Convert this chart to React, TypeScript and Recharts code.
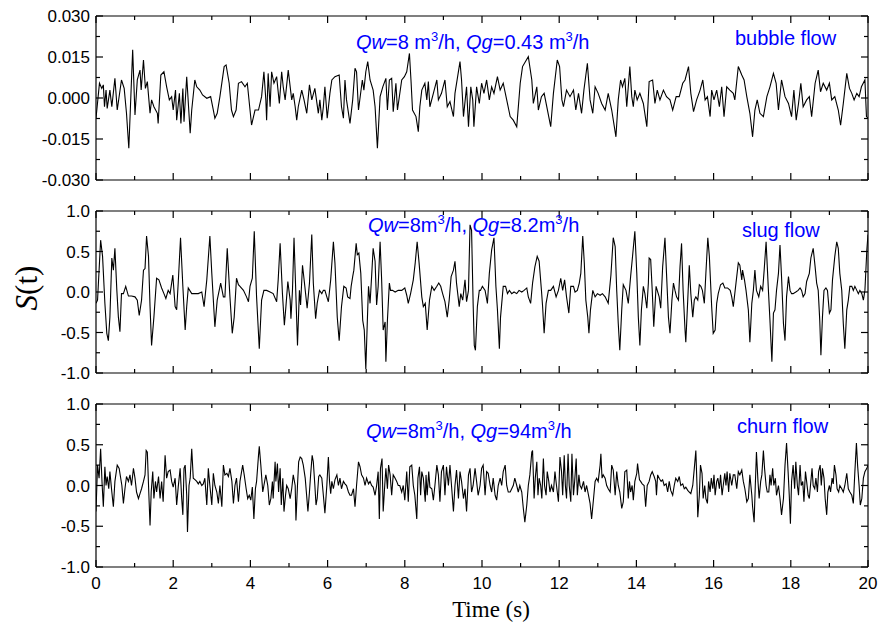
import { LineChart, Line, XAxis, YAxis, Label } from "recharts";

// sampled S(t) traces, [time (s), S]
const bubbleFlow: [number, number][] = [
  [0.0, -0.0074], [0.09, 0.0054], [0.15, 0.0035], [0.19, 0.0048], [0.22, -0.0032], [0.26, 0.0029], [0.29, -0.0038], [0.36, 0.0029], [0.41, -0.0032], [0.49, 0.0072], [0.55, -0.0044], [0.66, 0.0066], [0.73, 0.0035], [0.79, -0.0056], [0.85, -0.0184], [0.95, 0.0176], [1.01, -0.0062], [1.07, 0.0066], [1.14, 0.0102], [1.17, 0.0029], [1.23, 0.0139], [1.28, 0.0035], [1.33, 0.006], [1.4, -0.0056], [1.44, -0.0007], [1.5, -0.0032], [1.59, -0.0056], [1.61, -0.0093], [1.68, 0.0084], [1.76, 0.0096], [1.83, 0.0041], [1.9, -0.0007], [1.96, 0.0005], [2.0, -0.0044], [2.06, 0.0029], [2.09, -0.0081], [2.16, 0.0017], [2.2, -0.0093], [2.25, 0.0035], [2.28, -0.0087], [2.35, 0.0078], [2.44, -0.0129], [2.48, -0.0044], [2.56, 0.0066], [2.61, 0.0041], [2.69, 0.0029], [2.76, 0.0011], [2.87, -0.0001], [2.97, 0.0005], [3.04, -0.0044], [3.08, -0.0074], [3.14, -0.0056], [3.21, 0.0005], [3.32, 0.0115], [3.37, 0.0121], [3.45, 0.0054], [3.51, -0.0044], [3.56, -0.0068], [3.63, -0.0044], [3.69, 0.0054], [3.77, 0.006], [3.86, 0.0041], [3.92, 0.0054], [3.99, -0.0044], [4.03, -0.0099], [4.12, -0.0044], [4.21, -0.0044], [4.29, 0.0005], [4.35, 0.0096], [4.4, -0.0007], [4.42, -0.0081], [4.46, 0.009], [4.51, -0.0032], [4.55, 0.0096], [4.61, 0.0054], [4.68, 0.0078], [4.75, -0.002], [4.81, 0.0096], [4.85, 0.0041], [4.9, -0.0007], [4.98, 0.0102], [5.07, -0.0007], [5.11, 0.0017], [5.16, -0.0032], [5.2, -0.0081], [5.24, -0.0032], [5.33, 0.0029], [5.39, -0.0007], [5.46, -0.0056], [5.53, 0.0048], [5.59, -0.0007], [5.67, 0.0035], [5.76, -0.0056], [5.8, -0.0007], [5.85, -0.0081], [5.89, -0.0032], [5.93, 0.0041], [5.99, -0.0074], [6.06, 0.0017], [6.11, 0.0066], [6.19, 0.0078], [6.3, 0.0084], [6.36, -0.0032], [6.41, -0.0074], [6.45, 0.0066], [6.49, -0.0007], [6.58, -0.0093], [6.65, -0.0007], [6.71, 0.0109], [6.75, 0.0096], [6.8, -0.0044],
  [6.9, 0.0066], [6.94, 0.0029], [6.99, 0.0096], [7.04, 0.0133], [7.1, 0.0066], [7.18, 0.0029], [7.23, -0.0032], [7.29, -0.0184], [7.36, 0.0005], [7.43, 0.0041], [7.51, 0.0072], [7.55, -0.0044], [7.6, 0.0066], [7.66, 0.0072], [7.7, -0.005], [7.77, 0.0054], [7.81, -0.0044], [7.92, 0.0066], [7.99, 0.0078], [8.05, 0.0096], [8.12, 0.0163], [8.16, 0.0066], [8.2, -0.0044], [8.29, -0.0068], [8.35, -0.0123], [8.39, -0.0032], [8.44, 0.0029], [8.52, 0.0054], [8.57, -0.0007], [8.61, 0.006], [8.65, -0.0032], [8.74, 0.0017], [8.83, 0.0066], [8.87, -0.0007], [8.95, 0.0017], [9.04, 0.0066], [9.1, -0.0032], [9.17, -0.0013], [9.26, -0.0068], [9.3, 0.0017], [9.43, 0.0133], [9.47, 0.0066], [9.52, -0.0068], [9.6, 0.0041], [9.65, -0.0105], [9.71, 0.0041], [9.76, -0.0007], [9.79, -0.0105], [9.86, 0.0041], [9.93, -0.002], [9.99, 0.0054], [10.05, 0.0017], [10.12, 0.0066], [10.19, -0.0007], [10.25, 0.0041], [10.31, 0.0017], [10.4, 0.0078], [10.47, 0.0029], [10.55, 0.0054], [10.64, -0.0007], [10.73, -0.0068], [10.81, -0.0081], [10.9, -0.0105], [10.99, 0.0054], [11.05, 0.0115], [11.2, 0.0151], [11.29, 0.0066], [11.33, -0.002], [11.42, 0.0041], [11.46, -0.0044], [11.54, 0.0005], [11.61, 0.0017], [11.78, -0.0105], [11.85, 0.0017], [11.95, 0.0139], [12.01, 0.0115], [12.07, -0.0007], [12.11, -0.0032], [12.19, 0.0029], [12.28, 0.0005], [12.37, 0.0029], [12.43, -0.0044], [12.5, 0.0017], [12.58, -0.0056], [12.64, 0.0029], [12.73, 0.0127], [12.8, -0.0007], [12.87, -0.0056], [12.93, 0.0041], [13.01, 0.0017], [13.1, -0.002], [13.19, -0.0044], [13.27, 0.0017], [13.36, -0.0044], [13.47, -0.0142], [13.53, -0.0007],
  [13.59, 0.0066], [13.64, 0.0041], [13.7, 0.0072], [13.75, -0.0032], [13.83, 0.0115], [13.88, 0.0005], [13.92, -0.0032], [13.96, 0.0029], [14.02, -0.0007], [14.09, 0.0017], [14.18, -0.002], [14.27, -0.0105], [14.33, 0.006], [14.42, 0.0066], [14.48, -0.002], [14.54, 0.0029], [14.61, -0.0007], [14.7, 0.0029], [14.78, 0.0005], [14.87, -0.0007], [14.94, -0.0044], [15.03, 0.0005], [15.11, 0.0005], [15.2, 0.0054], [15.26, 0.0066], [15.35, 0.0115], [15.41, 0.0017], [15.48, -0.005], [15.56, -0.0007], [15.65, 0.0029], [15.72, 0.0066], [15.78, -0.0007], [15.84, 0.0005], [15.91, -0.0068], [15.95, 0.0029], [16.01, -0.0007], [16.08, 0.0029], [16.15, -0.0032], [16.21, 0.0041], [16.27, -0.0068], [16.34, 0.0041], [16.42, 0.0029], [16.51, 0.0017], [16.55, -0.0007], [16.64, 0.0115], [16.73, 0.0084], [16.79, 0.0066], [16.86, 0.0005], [16.94, -0.0056], [17.01, -0.0142], [17.07, -0.0044], [17.13, -0.0007], [17.2, -0.0056], [17.29, -0.0068], [17.38, 0.0005], [17.46, 0.0041], [17.55, 0.009], [17.62, 0.0054], [17.68, -0.0044], [17.76, 0.0066], [17.85, 0.0005], [17.94, -0.002], [18.02, -0.0068], [18.08, 0.0029], [18.14, -0.0081], [18.2, -0.002], [18.26, 0.0054], [18.32, -0.0032], [18.41, -0.0007], [18.48, 0.0005], [18.54, -0.0068], [18.63, 0.0054], [18.71, 0.0102], [18.77, 0.0023], [18.84, 0.0054], [18.93, 0.0029], [19.0, 0.0054], [19.06, -0.0007], [19.14, 0.0005], [19.23, -0.0044], [19.29, -0.0099], [19.36, -0.002], [19.45, 0.009], [19.52, 0.0035], [19.58, 0.0017], [19.64, -0.0007], [19.71, 0.0017], [19.77, 0.0005], [19.83, 0.0041], [19.92, 0.0066], [19.96, -0.0068], [20.0, -0.0074],
];

const slugFlow: [number, number][] = [
  [0.0, -0.14], [0.04, -0.1], [0.12, 0.64], [0.17, 0.44], [0.23, -0.14], [0.28, -0.51], [0.32, -0.6], [0.36, -0.31], [0.41, 0.42], [0.45, 0.27], [0.49, 0.54], [0.54, 0.02], [0.58, -0.31], [0.62, -0.49], [0.66, -0.02], [0.71, -0.02], [0.77, 0.07], [0.84, -0.05], [0.92, -0.05], [1.01, -0.06], [1.07, -0.1], [1.12, -0.29], [1.18, -0.1], [1.23, 0.27], [1.27, 0.29], [1.31, 0.69], [1.36, 0.44], [1.4, -0.18], [1.44, -0.66], [1.5, -0.31], [1.57, 0.17], [1.63, 0.15], [1.7, 0.05], [1.76, -0.02], [1.81, -0.08], [1.87, 0.02], [1.92, -0.02], [1.99, 0.21], [2.05, -0.18], [2.09, -0.22], [2.13, 0.11], [2.19, 0.67], [2.25, 0.07], [2.31, -0.47], [2.35, -0.18], [2.39, 0.05], [2.48, -0.02], [2.56, -0.02], [2.65, -0.02], [2.74, 0.0], [2.8, -0.18], [2.87, 0.15], [2.95, 0.69], [3.0, 0.23], [3.08, -0.43], [3.14, -0.1], [3.23, 0.11], [3.3, -0.06], [3.34, -0.06], [3.4, 0.54], [3.47, -0.06], [3.53, -0.51], [3.58, -0.31], [3.64, 0.17], [3.69, 0.09], [3.73, 0.07], [3.82, 0.02], [3.9, -0.06], [3.95, -0.12], [3.99, 0.07], [4.05, 0.17], [4.1, 0.75], [4.16, -0.06], [4.23, -0.7], [4.29, -0.1], [4.35, 0.02], [4.42, 0.02], [4.51, 0.0], [4.59, -0.02], [4.68, -0.12], [4.72, 0.15], [4.77, 0.6], [4.83, -0.02], [4.88, -0.41], [4.92, -0.18], [4.97, 0.13], [5.03, -0.1], [5.05, -0.33], [5.09, 0.02], [5.13, 0.67], [5.18, -0.06], [5.22, -0.66], [5.27, 0.02], [5.3, -0.16], [5.35, 0.33], [5.41, 0.07], [5.47, -0.2], [5.53, 0.11], [5.59, 0.71], [5.63, 0.11], [5.69, -0.33], [5.73, -0.14], [5.79, 0.02], [5.85, -0.02], [5.89, 0.02], [5.93, 0.02], [5.98, -0.06], [6.02, -0.12], [6.08, 0.15], [6.15, 0.62], [6.19, 0.36], [6.25, -0.31], [6.3, -0.6], [6.36, -0.18], [6.42, 0.07], [6.48, 0.05], [6.52, -0.06],
  [6.58, -0.08], [6.61, 0.07], [6.65, 0.19], [6.68, 0.27], [6.74, 0.6], [6.77, 0.46], [6.81, 0.48], [6.86, 0.23], [6.91, -0.35], [6.95, -0.47], [6.99, -0.95], [7.03, -0.35], [7.06, 0.07], [7.1, -0.14], [7.14, 0.19], [7.18, 0.54], [7.23, 0.38], [7.27, -0.16], [7.31, 0.07], [7.36, 0.62], [7.4, 0.15], [7.44, -0.47], [7.49, -0.37], [7.51, -0.86], [7.55, -0.35], [7.6, 0.11], [7.63, 0.02], [7.68, 0.02], [7.75, 0.0], [7.83, 0.02], [7.92, 0.02], [8.0, 0.05], [8.05, -0.04], [8.09, -0.14], [8.15, -0.02], [8.22, 0.15], [8.27, 0.36], [8.32, 0.62], [8.37, 0.36], [8.44, -0.06], [8.48, -0.18], [8.53, -0.14], [8.58, -0.47], [8.64, -0.1], [8.7, 0.07], [8.76, 0.02], [8.83, 0.07], [8.88, 0.11], [8.93, 0.07], [8.98, -0.02], [9.04, -0.12], [9.1, -0.31], [9.15, -0.1], [9.2, 0.19], [9.26, 0.27], [9.3, 0.38], [9.34, 0.11], [9.41, -0.18], [9.45, -0.02], [9.5, -0.1], [9.56, 0.15], [9.6, -0.12], [9.65, 0.02], [9.69, 0.83], [9.73, 0.76], [9.77, -0.14], [9.8, -0.66], [9.83, -0.72], [9.88, -0.18], [9.93, 0.02], [9.96, 0.02], [10.01, 0.07], [10.08, 0.02], [10.14, -0.14], [10.19, 0.23], [10.25, 0.52], [10.31, 0.67], [10.36, 0.07], [10.4, -0.22], [10.45, -0.7], [10.48, -0.31], [10.55, 0.07], [10.61, 0.07], [10.66, -0.02], [10.71, 0.02], [10.77, -0.02], [10.83, 0.0], [10.9, -0.02], [10.96, 0.02], [11.03, 0.0], [11.09, 0.02], [11.16, 0.05], [11.2, -0.06], [11.26, -0.14], [11.31, 0.11], [11.37, 0.31], [11.43, 0.44], [11.48, 0.38], [11.54, 0.02], [11.57, -0.18], [11.61, -0.51], [11.66, -0.14], [11.72, 0.02], [11.78, 0.02], [11.85, 0.07], [11.92, -0.06], [11.98, 0.02], [12.04, 0.17], [12.09, 0.02], [12.14, 0.15], [12.19, -0.06], [12.25, -0.26], [12.3, 0.07], [12.37, 0.07], [12.41, 0.0], [12.47, 0.02], [12.52, 0.11], [12.56, 0.23], [12.61, 0.69], [12.65, 0.36], [12.69, -0.1], [12.74, -0.31], [12.77, -0.51], [12.81, -0.22], [12.87, 0.02], [12.93, -0.06], [12.99, -0.02], [13.06, -0.04], [13.12, -0.02], [13.19, -0.06], [13.23, -0.1], [13.27, -0.14], [13.32, 0.11],
  [13.34, 0.21], [13.4, 0.67], [13.45, 0.56], [13.49, 0.02], [13.53, -0.39], [13.57, -0.72], [13.62, -0.22], [13.66, 0.09], [13.73, 0.02], [13.79, -0.14], [13.85, 0.19], [13.9, 0.44], [13.96, 0.75], [14.01, 0.23], [14.05, -0.31], [14.09, -0.66], [14.13, -0.22], [14.18, 0.07], [14.22, -0.02], [14.27, -0.2], [14.31, 0.11], [14.33, 0.42], [14.37, 0.4], [14.41, 0.02], [14.45, -0.43], [14.51, 0.07], [14.54, 0.02], [14.59, -0.06], [14.63, -0.2], [14.68, 0.31], [14.74, 0.67], [14.78, 0.23], [14.83, -0.31], [14.87, -0.51], [14.92, -0.1], [14.96, 0.11], [15.0, 0.02], [15.04, -0.06], [15.09, -0.1], [15.13, 0.31], [15.17, 0.6], [15.21, 0.02], [15.26, -0.47], [15.28, -0.62], [15.33, -0.1], [15.37, 0.33], [15.41, -0.02], [15.46, -0.31], [15.5, -0.1], [15.54, -0.06], [15.59, -0.1], [15.63, 0.09], [15.67, 0.07], [15.71, 0.02], [15.76, -0.14], [15.8, 0.23], [15.85, 0.67], [15.89, 0.44], [15.95, -0.18], [15.99, -0.51], [16.04, -0.47], [16.08, -0.14], [16.12, -0.02], [16.18, 0.09], [16.24, 0.11], [16.29, 0.05], [16.36, 0.05], [16.43, 0.02], [16.47, -0.06], [16.51, -0.18], [16.58, 0.11], [16.64, 0.36], [16.68, 0.33], [16.73, 0.15], [16.75, 0.27], [16.8, 0.15], [16.84, 0.02], [16.9, -0.22], [16.94, -0.62], [16.99, -0.14], [17.03, 0.02], [17.07, 0.27], [17.11, 0.02], [17.17, -0.06], [17.22, 0.07], [17.27, 0.02], [17.31, 0.27], [17.36, 0.62], [17.42, 0.02], [17.46, -0.35], [17.51, -0.86], [17.55, -0.26], [17.59, -0.22], [17.63, 0.02], [17.68, 0.23], [17.72, 0.58], [17.76, 0.19], [17.81, -0.39], [17.85, -0.6], [17.89, -0.06], [17.94, 0.19], [17.98, 0.02], [18.02, -0.02], [18.06, -0.02], [18.13, 0.0], [18.19, 0.02], [18.24, 0.05], [18.28, 0.02], [18.32, -0.06], [18.37, -0.02], [18.41, 0.13], [18.48, 0.23], [18.52, 0.42], [18.58, 0.54], [18.63, 0.31], [18.67, 0.11], [18.71, 0.02], [18.75, -0.35], [18.78, -0.78], [18.82, -0.31], [18.86, 0.02], [18.91, 0.05], [18.95, 0.02], [19.0, -0.26], [19.04, -0.22], [19.08, 0.15], [19.14, 0.44], [19.19, 0.62], [19.23, 0.54], [19.27, 0.23], [19.32, 0.02], [19.36, -0.39], [19.4, -0.7], [19.45, -0.22], [19.49, -0.1], [19.53, 0.07], [19.58, 0.07], [19.62, 0.02], [19.66, 0.07], [19.71, 0.02], [19.75, -0.02], [19.79, 0.02], [19.84, -0.02], [19.88, -0.1], [19.92, 0.02], [19.97, 0.52], [20.0, 0.71],
];

const churnFlow: [number, number][] = [
  [0.0, -0.32], [0.04, 0.25], [0.08, 0.09], [0.12, 0.45], [0.16, 0.0], [0.19, -0.26], [0.23, 0.23], [0.26, 0.0], [0.29, 0.11], [0.33, -0.04], [0.36, 0.17], [0.41, -0.08], [0.45, -0.26], [0.49, 0.05], [0.55, 0.25], [0.6, 0.21], [0.67, 0.0], [0.71, -0.22], [0.75, -0.04], [0.79, 0.11], [0.84, 0.05], [0.88, 0.13], [0.92, 0.0], [0.97, 0.21], [1.01, 0.09], [1.05, -0.08], [1.1, -0.16], [1.14, -0.1], [1.18, -0.04], [1.23, 0.05], [1.27, 0.13], [1.3, 0.43], [1.33, 0.41], [1.37, -0.12], [1.4, -0.49], [1.43, -0.08], [1.47, 0.17], [1.5, -0.16], [1.54, 0.05], [1.57, -0.08], [1.62, 0.11], [1.66, -0.16], [1.7, 0.05], [1.74, -0.2], [1.79, 0.37], [1.83, 0.09], [1.87, 0.17], [1.92, 0.19], [1.96, 0.05], [2.0, -0.02], [2.05, 0.09], [2.09, -0.24], [2.13, -0.02], [2.18, 0.21], [2.22, -0.16], [2.25, -0.36], [2.28, 0.21], [2.31, 0.25], [2.35, -0.12], [2.37, -0.57], [2.41, 0.0], [2.44, 0.09], [2.48, 0.45], [2.52, 0.09], [2.57, 0.07], [2.61, 0.05], [2.65, 0.02], [2.69, 0.05], [2.74, 0.0], [2.78, 0.02], [2.82, 0.09], [2.87, -0.24], [2.91, 0.21], [2.95, 0.0], [3.0, -0.24], [3.04, 0.15], [3.08, 0.0], [3.13, -0.08], [3.17, -0.22], [3.21, 0.0], [3.26, -0.26], [3.3, 0.25], [3.34, 0.13], [3.39, 0.15], [3.43, 0.11], [3.47, 0.21], [3.52, 0.05], [3.56, -0.22], [3.6, 0.0], [3.64, 0.09], [3.69, -0.2], [3.73, 0.05], [3.8, 0.25], [3.84, 0.13], [3.89, -0.04], [3.93, -0.16], [3.97, -0.12], [4.01, -0.18], [4.05, -0.02], [4.09, -0.41], [4.13, -0.04], [4.16, 0.05], [4.21, 0.37], [4.23, 0.48], [4.27, 0.25], [4.32, -0.08], [4.35, 0.0], [4.4, 0.13], [4.45, 0.0], [4.49, -0.24], [4.53, -0.16], [4.57, 0.05], [4.59, -0.16], [4.64, 0.29], [4.66, 0.05], [4.7, 0.27], [4.73, -0.08], [4.77, 0.21], [4.8, -0.24], [4.84, 0.09], [4.87, -0.32], [4.91, -0.12], [4.94, 0.0], [4.98, -0.04], [5.03, -0.16], [5.07, -0.04], [5.11, 0.13], [5.16, 0.0], [5.18, -0.43], [5.22, 0.0], [5.25, 0.29], [5.29, 0.35], [5.33, 0.33], [5.37, 0.25], [5.42, 0.09], [5.46, -0.14], [5.49, -0.32], [5.53, -0.08], [5.56, 0.13], [5.6, 0.37], [5.63, 0.29], [5.67, 0.0], [5.7, -0.24], [5.73, -0.16], [5.77, 0.11], [5.8, 0.13], [5.85, 0.09], [5.89, -0.12], [5.93, -0.34], [5.98, 0.0], [6.02, 0.35], [6.05, 0.05], [6.08, -0.1], [6.11, 0.05], [6.15, -0.04], [6.19, 0.07], [6.24, 0.13], [6.28, 0.0], [6.32, 0.09], [6.36, -0.04], [6.41, 0.05], [6.45, 0.02], [6.49, 0.0], [6.54, -0.08], [6.58, -0.12],
  [6.62, -0.12], [6.67, -0.04], [6.71, -0.26], [6.75, 0.0], [6.8, 0.29], [6.84, 0.23], [6.88, 0.13], [6.93, 0.09], [6.97, 0.0], [7.01, 0.09], [7.06, 0.02], [7.1, 0.05], [7.14, 0.0], [7.18, -0.02], [7.23, -0.12], [7.27, 0.0], [7.31, 0.17], [7.34, -0.41], [7.37, 0.21], [7.41, 0.33], [7.44, -0.32], [7.48, 0.0], [7.51, 0.21], [7.55, -0.04], [7.58, 0.25], [7.62, 0.13], [7.66, -0.12], [7.7, 0.13], [7.75, 0.09], [7.79, 0.05], [7.83, 0.0], [7.87, 0.0], [7.92, -0.08], [7.96, 0.0], [8.0, -0.18], [8.05, 0.17], [8.09, -0.2], [8.13, 0.23], [8.18, 0.25], [8.22, 0.0], [8.26, -0.12], [8.31, -0.41], [8.34, 0.09], [8.38, 0.23], [8.41, -0.12], [8.44, 0.17], [8.48, 0.09], [8.53, -0.2], [8.55, 0.13], [8.58, -0.12], [8.62, 0.17], [8.65, -0.02], [8.7, -0.04], [8.74, -0.18], [8.78, 0.0], [8.83, 0.25], [8.87, 0.13], [8.91, -0.2], [8.95, 0.17], [9.0, 0.25], [9.04, -0.12], [9.08, 0.23], [9.13, 0.0], [9.17, 0.25], [9.21, 0.0], [9.26, -0.32], [9.3, 0.0], [9.34, 0.19], [9.39, -0.16], [9.43, 0.17], [9.47, 0.05], [9.52, -0.16], [9.56, -0.04], [9.6, -0.32], [9.65, 0.13], [9.69, 0.21], [9.73, -0.08], [9.77, 0.0], [9.82, 0.21], [9.86, 0.05], [9.9, -0.12], [9.95, 0.0], [9.99, 0.21], [10.03, 0.25], [10.08, -0.12], [10.12, 0.17], [10.16, 0.15], [10.21, 0.0], [10.25, -0.08], [10.29, 0.09], [10.34, -0.12], [10.38, -0.18], [10.42, 0.0], [10.47, 0.09], [10.51, 0.0], [10.55, 0.17], [10.6, 0.25], [10.64, 0.0], [10.68, -0.08], [10.73, -0.08], [10.77, -0.04], [10.81, 0.0], [10.85, 0.09], [10.9, 0.0], [10.94, -0.08], [10.98, 0.0], [11.03, -0.08], [11.07, -0.28], [11.11, -0.45], [11.16, -0.24], [11.2, 0.0], [11.24, 0.13], [11.29, 0.41], [11.31, 0.43], [11.35, -0.16], [11.38, 0.09], [11.42, 0.29], [11.45, -0.12], [11.48, 0.09], [11.52, 0.0], [11.55, -0.16], [11.59, 0.33], [11.62, 0.0], [11.66, -0.12], [11.69, 0.17], [11.73, 0.05], [11.76, -0.08], [11.8, 0.0], [11.85, -0.08], [11.89, 0.17], [11.93, 0.0], [11.98, -0.2], [12.02, 0.35], [12.06, 0.17], [12.09, -0.12], [12.13, 0.37], [12.16, 0.0], [12.19, -0.16], [12.23, 0.39], [12.26, 0.0], [12.3, -0.2], [12.33, 0.39], [12.37, -0.12], [12.4, 0.05], [12.44, 0.33], [12.47, -0.12], [12.51, 0.13], [12.54, 0.0], [12.58, -0.04], [12.63, 0.05], [12.67, -0.08], [12.71, 0.0], [12.76, -0.12], [12.8, -0.22], [12.84, -0.41], [12.89, -0.16], [12.93, 0.05], [12.97, 0.09], [13.01, 0.05], [13.06, 0.25], [13.08, 0.39], [13.11, 0.09], [13.14, 0.13], [13.19, 0.09], [13.23, 0.0], [13.27, -0.04], [13.32, -0.08],
  [13.36, 0.25], [13.4, 0.19], [13.45, -0.12], [13.49, 0.17], [13.53, 0.0], [13.57, -0.08], [13.62, -0.28], [13.66, -0.2], [13.7, 0.17], [13.75, 0.19], [13.79, -0.16], [13.82, 0.05], [13.85, -0.08], [13.89, 0.0], [13.92, -0.18], [13.96, 0.05], [14.01, 0.15], [14.03, 0.27], [14.08, 0.07], [14.11, 0.05], [14.15, 0.02], [14.2, 0.0], [14.24, -0.26], [14.28, 0.0], [14.33, 0.05], [14.37, 0.13], [14.41, 0.17], [14.46, 0.11], [14.5, 0.05], [14.52, -0.12], [14.55, 0.13], [14.59, 0.09], [14.64, 0.05], [14.68, 0.07], [14.72, 0.0], [14.77, 0.02], [14.81, -0.08], [14.85, 0.05], [14.89, -0.06], [14.94, -0.12], [14.98, 0.0], [15.02, 0.09], [15.07, 0.05], [15.11, 0.11], [15.15, 0.0], [15.2, 0.02], [15.24, -0.04], [15.28, -0.02], [15.33, -0.06], [15.37, -0.08], [15.41, -0.1], [15.46, 0.0], [15.5, 0.21], [15.54, 0.43], [15.57, 0.0], [15.59, -0.39], [15.63, -0.12], [15.66, 0.25], [15.7, 0.15], [15.73, -0.16], [15.77, 0.0], [15.8, -0.16], [15.84, -0.22], [15.87, 0.05], [15.91, -0.08], [15.94, 0.09], [15.98, -0.04], [16.01, 0.13], [16.04, -0.12], [16.08, 0.05], [16.11, 0.09], [16.15, -0.04], [16.18, 0.13], [16.22, -0.12], [16.25, 0.0], [16.29, 0.15], [16.32, 0.0], [16.35, 0.17], [16.39, -0.08], [16.42, 0.15], [16.47, 0.0], [16.51, 0.13], [16.55, 0.13], [16.6, -0.04], [16.64, 0.17], [16.68, 0.13], [16.73, 0.19], [16.77, 0.05], [16.81, -0.04], [16.86, -0.2], [16.9, -0.16], [16.94, 0.13], [16.99, -0.12], [17.01, -0.26], [17.05, -0.45], [17.08, 0.0], [17.11, 0.41], [17.15, 0.05], [17.18, -0.16], [17.22, 0.05], [17.25, 0.13], [17.29, 0.43], [17.32, 0.21], [17.36, 0.0], [17.39, -0.08], [17.43, -0.08], [17.46, 0.13], [17.49, 0.0], [17.53, 0.21], [17.56, 0.0], [17.6, 0.09], [17.63, -0.12], [17.68, 0.0], [17.72, -0.16], [17.76, -0.36], [17.81, -0.16], [17.85, 0.25], [17.89, 0.52], [17.93, 0.17], [17.96, -0.12], [17.99, -0.47], [18.02, 0.05], [18.06, 0.25], [18.1, -0.04], [18.13, 0.29], [18.17, 0.0], [18.2, -0.12], [18.24, 0.25], [18.27, 0.0], [18.31, 0.05], [18.34, -0.2], [18.38, 0.17], [18.41, 0.05], [18.45, -0.12], [18.48, -0.16], [18.51, 0.0], [18.55, 0.21], [18.58, 0.0], [18.62, -0.04], [18.65, 0.09], [18.69, -0.08], [18.72, 0.17], [18.76, 0.25], [18.79, 0.0], [18.82, 0.21], [18.86, 0.09], [18.89, -0.16], [18.93, -0.36], [18.96, -0.08], [19.0, 0.0], [19.03, -0.08], [19.07, 0.09], [19.1, 0.02], [19.13, 0.25], [19.17, 0.13], [19.2, -0.04], [19.24, -0.08], [19.27, 0.0], [19.32, -0.04], [19.36, -0.08], [19.4, 0.0], [19.45, 0.15], [19.49, -0.04], [19.53, -0.08], [19.58, -0.12], [19.62, -0.22], [19.66, 0.17], [19.7, 0.52], [19.73, 0.25], [19.77, 0.0], [19.8, -0.24], [19.84, -0.16], [19.88, 0.09], [19.92, 0.17], [19.97, 0.21], [20.0, 0.25],
];

// axis ticks
const timeTicks = [0, 1, 2, 3, 4, 5, 6, 7, 8, 9, 10, 11, 12, 13, 14, 15, 16, 17, 18, 19, 20];
const bubbleTicks = [-0.03, -0.0225, -0.015, -0.0075, 0, 0.0075, 0.015, 0.0225, 0.03];
const flowTicks = [-1, -0.75, -0.5, -0.25, 0, 0.25, 0.5, 0.75, 1];

const INK = "#000";
const BLUE = "#0000ff";
const SANS = "'Liberation Sans', Arial, sans-serif";
const SERIF = "'Liberation Serif', 'Times New Roman', serif";
const W = 879;

function XTick(props: any) {
  const { x, y, payload, side, showLabel } = props;
  const major = payload.value % 2 === 0;
  const len = major ? 7 : 4;
  const dir = side === "top" ? 1 : -1;
  return (
    <g>
      <line x1={x} x2={x} y1={y} y2={y + dir * len} stroke={INK} strokeWidth={1.2} />
      {showLabel && major && (
        <text x={x} y={y + 22} textAnchor="middle" fontSize={17} fontFamily={SANS} fill={INK}>
          {payload.value}
        </text>
      )}
    </g>
  );
}

function YTick(props: any) {
  const { x, y, payload, side, step, decimals } = props;
  const r = payload.value / step;
  const major = Math.abs(r - Math.round(r)) < 1e-6;
  const len = major ? 7 : 4;
  const dir = side === "left" ? 1 : -1;
  return (
    <g>
      <line x1={x} x2={x + dir * len} y1={y} y2={y} stroke={INK} strokeWidth={1.2} />
      {side === "left" && major && (
        <text x={x - 6} y={y} dy="0.36em" textAnchor="end" fontSize={17} fontFamily={SANS} fill={INK}>
          {payload.value.toFixed(decimals)}
        </text>
      )}
    </g>
  );
}

type PanelProps = {
  points: [number, number][];
  top: number;
  height: number;
  bottomHeight: number;
  yTicks: number[];
  yStep: number;
  decimals: number;
  timeLabels?: boolean;
  yTitle?: boolean;
};

function Panel({ points, top, height, bottomHeight, yTicks, yStep, decimals, timeLabels, yTitle }: PanelProps) {
  const rows = points.map(([t, s]) => ({ t, s }));
  const yDomain = [yTicks[0], yTicks[yTicks.length - 1]];
  const axisLine = { stroke: INK, strokeWidth: 1.2 };
  return (
    <div style={{ position: "absolute", left: 0, top }}>
      <LineChart width={W} height={height} data={rows} margin={{ top: 0, right: 0, bottom: 0, left: 0 }}>
        <XAxis
          xAxisId="bottom"
          dataKey="t"
          type="number"
          domain={[0, 20]}
          ticks={timeTicks}
          interval={0}
          allowDataOverflow
          height={bottomHeight}
          tickSize={0}
          tickMargin={0}
          tickLine={false}
          axisLine={axisLine}
          tick={(p: any) => <XTick {...p} side="bottom" showLabel={timeLabels} />}
        >
          {timeLabels && (
            <Label
              content={({ viewBox }: any) => (
                <text
                  x={viewBox.x + viewBox.width / 2 + 9}
                  y={viewBox.y + viewBox.height - 9}
                  textAnchor="middle"
                  fontSize={23}
                  fontFamily={SERIF}
                  fill={INK}
                >
                  Time (s)
                </text>
              )}
            />
          )}
        </XAxis>
        <XAxis
          xAxisId="top"
          dataKey="t"
          orientation="top"
          type="number"
          domain={[0, 20]}
          ticks={timeTicks}
          interval={0}
          allowDataOverflow
          height={10}
          tickSize={0}
          tickMargin={0}
          tickLine={false}
          axisLine={axisLine}
          tick={(p: any) => <XTick {...p} side="top" />}
        />
        <YAxis
          yAxisId="left"
          type="number"
          domain={yDomain}
          ticks={yTicks}
          interval={0}
          allowDataOverflow
          width={96}
          tickSize={0}
          tickMargin={0}
          tickLine={false}
          axisLine={axisLine}
          tick={(p: any) => <YTick {...p} side="left" step={yStep} decimals={decimals} />}
        >
          {yTitle && (
            <Label
              content={({ viewBox }: any) => (
                <text
                  transform={`translate(37, ${viewBox.y + viewBox.height / 2 - 4}) rotate(-90)`}
                  textAnchor="middle"
                  fontSize={31}
                  fontFamily={SERIF}
                  fill={INK}
                >
                  <tspan fontStyle="italic">S</tspan>(t)
                </text>
              )}
            />
          )}
        </YAxis>
        <YAxis
          yAxisId="right"
          orientation="right"
          type="number"
          domain={yDomain}
          ticks={yTicks}
          interval={0}
          allowDataOverflow
          width={11}
          tickSize={0}
          tickMargin={0}
          tickLine={false}
          axisLine={axisLine}
          tick={(p: any) => <YTick {...p} side="right" step={yStep} decimals={decimals} />}
        />
        <Line
          xAxisId="bottom"
          yAxisId="left"
          dataKey="s"
          type="linear"
          stroke={INK}
          strokeWidth={1.1}
          dot={false}
          activeDot={false}
          isAnimationActive={false}
        />
      </LineChart>
    </div>
  );
}

// "Qw=.. m³/h, Qg=.. m³/h" with italic symbols and superscript 3
function FlowRate({ x, y, qw, qg }: { x: number; y: number; qw: string; qg: string }) {
  return (
    <text x={x} y={y} fill={BLUE} fontSize={20} fontFamily={SANS}>
      <tspan fontStyle="italic">Qw</tspan>
      <tspan>{`=${qw}m`}</tspan>
      <tspan dy={-8} fontSize={13}>3</tspan>
      <tspan dy={8}>{"/h, "}</tspan>
      <tspan fontStyle="italic">Qg</tspan>
      <tspan>{`=${qg}m`}</tspan>
      <tspan dy={-8} fontSize={13}>3</tspan>
      <tspan dy={8}>/h</tspan>
    </text>
  );
}

function Notes() {
  const common = { fill: BLUE, fontSize: 20, fontFamily: SANS };
  return (
    <svg width={W} height={626} style={{ position: "absolute", left: 0, top: 0, pointerEvents: "none" }}>
      <FlowRate x={356} y={49} qw="8 " qg="0.43 " />
      <text x={735} y={45} {...common}>bubble flow</text>
      <FlowRate x={368} y={232} qw="8" qg="8.2" />
      <text x={742} y={237} {...common}>slug flow</text>
      <FlowRate x={366} y={438} qw="8" qg="94" />
      <text x={737} y={433} {...common}>churn flow</text>
    </svg>
  );
}

export default function App() {
  return (
    <div style={{ position: "absolute", left: 0, top: 0, width: W, height: 626, background: "#fff", overflow: "hidden" }}>
      <Panel points={bubbleFlow} top={6} height={184} bottomHeight={10} yTicks={bubbleTicks} yStep={0.015} decimals={3} />
      <Panel points={slugFlow} top={201} height={182} bottomHeight={10} yTicks={flowTicks} yStep={0.5} decimals={1} yTitle />
      <Panel points={churnFlow} top={394} height={232} bottomHeight={59} yTicks={flowTicks} yStep={0.5} decimals={1} timeLabels />
      <Notes />
    </div>
  );
}
